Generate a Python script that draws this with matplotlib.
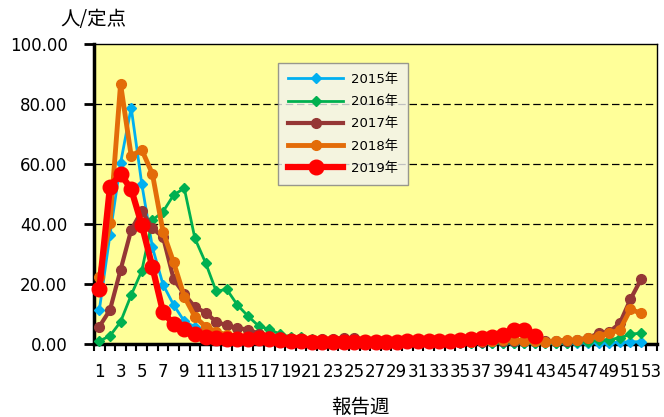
import matplotlib
matplotlib.use("Agg")
import matplotlib.pyplot as plt
import numpy as np

plt.rcParams['font.family'] = ['DejaVu Sans', 'Noto Sans CJK JP']

weeks = list(range(1, 54))
week_labels = [str(w) if w % 2 == 1 else "" for w in weeks]
y_ticks = [0, 20, 40, 60, 80, 100]
y_tick_labels = ["0.00", "20.00", "40.00", "60.00", "80.00", "100.00"]

series_names = ["2015年", "2016年", "2017年", "2018年", "2019年"]

v2015 = [11.3, 36.3, 60.3, 78.8, 53.3, 32.2, 19.8, 13.0, 7.6, 5.7,
         4.6, 3.6, 2.8, 2.2, 1.8, 1.5, 1.3, 1.0, 0.9, 0.8,
         0.9, 1.2, 1.0, 0.8, 0.7, 0.6, 0.5, 0.5, 0.5, 0.4,
         0.4, 0.4, 0.4, 0.4, 0.4, 0.4, 0.4, 0.4, 0.4, 0.4,
         0.4, 0.3, 0.3, 0.3, 0.3, 0.4, 0.4, 0.5, 0.5, 0.6,
         0.7, 0.8]
v2016 = [1.0, 2.7, 7.4, 16.3, 24.4, 41.3, 44.1, 49.7, 51.9, 35.2,
         27.1, 17.6, 18.2, 13.0, 9.3, 6.0, 4.9, 3.3, 2.4, 2.2,
         1.8, 1.5, 1.3, 1.2, 1.0, 0.9, 0.8, 0.7, 0.6, 0.6,
         0.5, 0.5, 0.5, 0.4, 0.4, 0.4, 0.4, 0.3, 0.3, 0.3,
         0.3, 0.3, 0.4, 0.4, 0.5, 0.6, 0.8, 1.2, 1.5, 2.0,
         3.3, 3.6]
v2017 = [5.8, 11.3, 24.7, 38.0, 44.4, 38.6, 35.6, 21.6, 16.6, 12.3,
         10.5, 7.4, 6.2, 5.3, 4.8, 3.5, 2.7, 2.2, 1.8, 1.6,
         1.5, 1.6, 1.8, 2.0, 2.0, 1.5, 1.2, 1.0, 0.9, 0.8,
         0.7, 0.6, 0.6, 0.6, 0.7, 0.7, 0.8, 0.9, 1.0, 1.1,
         1.0, 0.9, 0.9, 1.0, 1.1, 1.5, 2.0, 3.6, 4.0, 6.9,
         14.9, 21.6]
v2018 = [22.4, 40.2, 86.7, 62.7, 64.7, 56.7, 37.4, 27.2, 15.8, 9.1,
         5.8, 4.1, 3.0, 2.4, 2.0, 1.8, 1.6, 1.4, 1.2, 1.1,
         1.0, 0.9, 0.8, 0.8, 0.7, 0.7, 0.6, 0.6, 0.6, 0.5,
         0.5, 0.5, 0.6, 0.6, 0.7, 0.8, 1.0, 1.1, 1.2, 1.3,
         1.0, 0.9, 0.8, 1.0, 1.3, 1.3, 1.9, 2.7, 3.6, 4.7,
         11.6, 10.2]
v2019 = [18.2, 52.4, 56.7, 51.6, 39.7, 25.6, 10.6, 6.6, 4.9, 3.2,
         2.3, 2.0, 1.8, 1.6, 1.7, 2.0, 1.8, 1.3, 1.0, 0.9,
         0.8, 0.8, 0.8, 0.8, 0.8, 0.8, 0.8, 0.8, 0.8, 0.9,
         1.0, 1.1, 1.1, 1.1, 1.2, 1.6, 1.9, 2.2, 3.0, 4.7,
         4.7, 2.7]

colors = ["#00B0F0", "#00B050", "#953735", "#E36C09", "#FF0000"]
markers = ["D", "D", "o", "o", "o"]
msizes = [5, 5, 7, 7, 10.5]
lwidths = [2.0, 2.0, 3.0, 3.5, 4.5]

fig = plt.figure(figsize=(6.64, 4.17), dpi=100)
ax = fig.add_axes([94/664, 1-344/417, (657-94)/664, 300/417])
ax.set_facecolor("#FFFF99")

data = [v2015, v2016, v2017, v2018, v2019]
for vals, name, c, m, ms, lw in zip(data, series_names, colors, markers, msizes, lwidths):
    x = weeks[:len(vals)]
    ax.plot(x, vals, color=c, marker=m, markersize=ms, linewidth=lw,
            label=name, solid_joinstyle='miter', markeredgecolor=c,
            markerfacecolor=c, clip_on=False, zorder=3)

ax.set_xlim(0.5, 53.5)
ax.set_ylim(0, 100)
ax.set_yticks(y_ticks)
ax.set_yticklabels(y_tick_labels, fontsize=12)
ax.tick_params(axis='y', direction='out', length=7, width=2, pad=12)

# category labels at centers, tick marks at boundaries
ax.set_xticks(weeks)
ax.set_xticklabels(week_labels, fontsize=12)
ax.tick_params(axis='x', which='major', length=0, pad=14)
ax.set_xticks(np.arange(0.5, 54, 1.0), minor=True)
ax.tick_params(axis='x', which='minor', direction='out', length=5, width=1.5)

for yv in y_ticks[1:-1]:
    ax.axhline(yv, color="#000000", linestyle=(0, (6, 3)), linewidth=0.9, zorder=1)

for side in ['left', 'bottom']:
    ax.spines[side].set_linewidth(2.5)
    ax.spines[side].set_color('black')
for side in ['top', 'right']:
    ax.spines[side].set_linewidth(1.0)
    ax.spines[side].set_color('black')

leg = ax.legend(loc='upper left', bbox_to_anchor=(278/664, 1-63/417),
                bbox_transform=fig.transFigure, borderaxespad=0,
                handlelength=4.2, frameon=True, fancybox=False,
                labelspacing=0.7, borderpad=0.75, handletextpad=0.6,
                prop={'family': ['DejaVu Sans', 'Noto Sans CJK JP'], 'size': 9.5})
leg.get_frame().set_facecolor("#F2F2F2")
leg.get_frame().set_edgecolor("#808080")
leg.get_frame().set_linewidth(1.0)
leg.set_zorder(5)

fig.text(60/664, 1-19/417, "人/定点", fontsize=14, va='center', ha='left',
         family=['Noto Sans CJK JP', 'DejaVu Sans'])
fig.text(360/664, 1-407/417, "報告週", fontsize=14, va='center', ha='center',
         family=['Noto Sans CJK JP', 'DejaVu Sans'])

fig.savefig("out.png", dpi=100)
